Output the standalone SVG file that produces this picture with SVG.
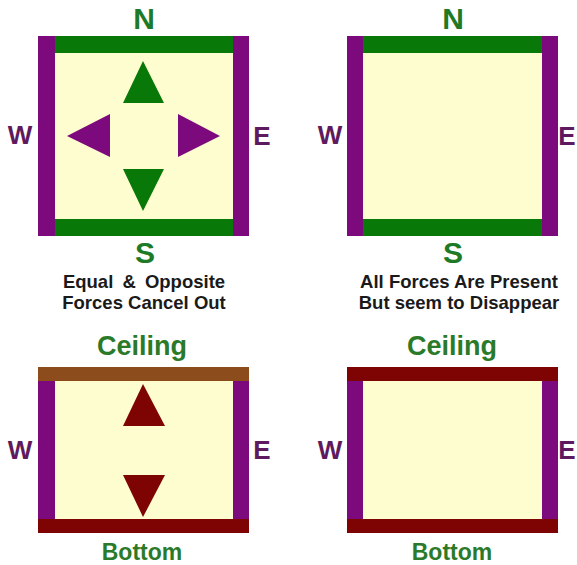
<svg xmlns="http://www.w3.org/2000/svg" width="577" height="565" viewBox="0 0 577 565">
<style>
.fill{fill:#fefdcf}
.pur{fill:#7d0a7d}
.grn{fill:#087808}
.red{fill:#7e0404}
.brn{fill:#8c4c1c}
.lbl{font-family:"Liberation Sans",Arial,sans-serif;font-weight:bold;text-anchor:middle}
.ns{font-size:30px;fill:#1e7a26}
.we{font-size:26px;fill:#5e1a5e}
.cb{font-size:27px;fill:#2a7a2a}
.cap{font-size:18.5px;fill:#1a1a1a}
</style>
<rect width="577" height="565" fill="#ffffff"/>

<g id="box-top-left">
<rect class="fill" x="38" y="36" width="211" height="200"/>
<rect class="pur" x="38" y="36" width="17" height="200"/>
<rect class="pur" x="233" y="36" width="16" height="200"/>
<rect class="grn" x="55" y="36" width="178" height="17"/>
<rect class="grn" x="55" y="219" width="178" height="17"/>
<polygon class="grn" points="143,61 164,103 123,103"/>
<polygon class="grn" points="123,169 164,169 143,211"/>
<polygon class="pur" points="67,136 110,114 110,157"/>
<polygon class="pur" points="178,114 220,136 178,157"/>
<text class="lbl ns" x="144" y="29">N</text>
<text class="lbl ns" x="145" y="263">S</text>
<text class="lbl we" x="20" y="144">W</text>
<text class="lbl we" x="262" y="145">E</text>
<text class="lbl cap" x="144" y="288" word-spacing="4">Equal &amp; Opposite</text>
<text class="lbl cap" x="144" y="309">Forces Cancel Out</text>
</g>

<g id="box-top-right">
<rect class="fill" x="347" y="36" width="211" height="200"/>
<rect class="pur" x="347" y="36" width="16" height="200"/>
<rect class="pur" x="542" y="36" width="16" height="200"/>
<rect class="grn" x="363" y="36" width="179" height="17"/>
<rect class="grn" x="363" y="219" width="179" height="17"/>
<text class="lbl ns" x="453" y="29">N</text>
<text class="lbl ns" x="453" y="263">S</text>
<text class="lbl we" x="330" y="144">W</text>
<text class="lbl we" x="567" y="145">E</text>
<text class="lbl cap" x="459" y="288">All Forces Are Present</text>
<text class="lbl cap" x="459" y="309">But seem to Disappear</text>
</g>

<g id="box-bottom-left">
<rect class="fill" x="38" y="367" width="211" height="166"/>
<rect class="pur" x="38" y="367" width="17" height="166"/>
<rect class="pur" x="233" y="367" width="16" height="166"/>
<rect class="brn" x="38" y="367" width="211" height="14"/>
<rect class="red" x="38" y="519" width="211" height="14"/>
<polygon class="red" points="143,384 165,426 123,426"/>
<polygon class="red" points="123,475 165,475 143,517"/>
<text class="lbl cb" x="142" y="355">Ceiling</text>
<text class="lbl cb" x="142" y="560" style="font-size:23px">Bottom</text>
<text class="lbl we" x="20" y="459">W</text>
<text class="lbl we" x="262" y="459">E</text>
</g>

<g id="box-bottom-right">
<rect class="fill" x="347" y="367" width="211" height="166"/>
<rect class="pur" x="347" y="367" width="16" height="166"/>
<rect class="pur" x="542" y="367" width="16" height="166"/>
<rect class="red" x="347" y="367" width="211" height="14"/>
<rect class="red" x="347" y="519" width="211" height="14"/>
<text class="lbl cb" x="452" y="355">Ceiling</text>
<text class="lbl cb" x="452" y="560" style="font-size:23px">Bottom</text>
<text class="lbl we" x="330" y="459">W</text>
<text class="lbl we" x="567" y="459">E</text>
</g>

<g id="connectors"></g>
</svg>
